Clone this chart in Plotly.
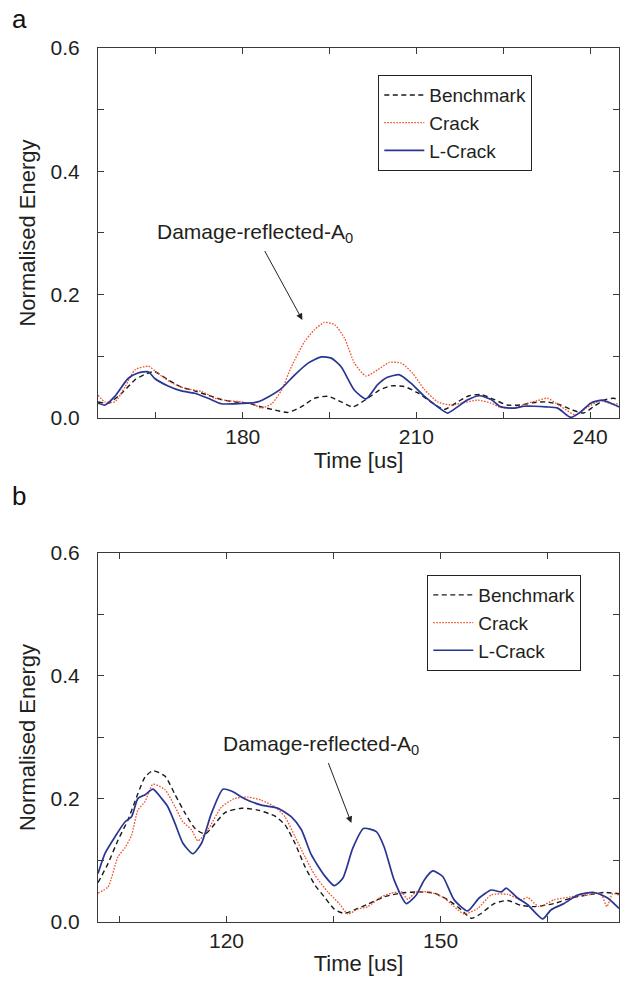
import plotly.graph_objects as go

# ---------------- Panel (a) data ----------------
a_bench_t = [155, 156.8, 159.1, 161.4, 163.4, 164.8, 167.1, 169.4, 171.7, 174, 176.3, 178.6, 180.9, 183.2,
             185.5, 187.8, 190.1, 192.4, 194.7, 197, 199, 201.6, 203.6, 205.6, 207.9, 210.2, 212.5, 214.8,
             217.1, 219.1, 221.2, 223.4, 225.7, 228, 230.3, 232.6, 234.9, 236.9, 238.9, 240.7, 242.4, 244.1, 245]
a_bench_v = [0.026, 0.024, 0.040, 0.062, 0.072, 0.075, 0.062, 0.050, 0.044, 0.037, 0.030, 0.026, 0.024, 0.018,
             0.013, 0.009, 0.018, 0.032, 0.035, 0.026, 0.018, 0.032, 0.045, 0.052, 0.051, 0.041, 0.026, 0.014,
             0.026, 0.036, 0.038, 0.030, 0.021, 0.021, 0.025, 0.026, 0.021, 0.013, 0.008, 0.019, 0.029, 0.032, 0.029]

a_crack_t = [155, 156.2, 157.9, 159.7, 161.4, 163.7, 165.4, 167.7, 170, 172.9, 175.2, 177.5, 179.8, 182.1,
             183.2, 185, 186.7, 188.4, 190.7, 192.4, 194.1, 195.9, 197.6, 199.3, 201.3, 203.3, 205.3, 207.4,
             209.4, 211.4, 213.7, 216, 218.3, 220.6, 222.9, 224.6, 226.9, 229.2, 230.9, 232.6, 234.9, 237.5,
             239.5, 241.8, 243.6, 245]
a_crack_v = [0.037, 0.026, 0.026, 0.051, 0.078, 0.084, 0.072, 0.057, 0.048, 0.043, 0.032, 0.028, 0.026, 0.021,
             0.016, 0.023, 0.045, 0.083, 0.124, 0.143, 0.155, 0.151, 0.129, 0.089, 0.068, 0.078, 0.090, 0.089,
             0.072, 0.046, 0.026, 0.021, 0.025, 0.029, 0.024, 0.017, 0.016, 0.024, 0.028, 0.032, 0.019, 0.005,
             0.017, 0.028, 0.023, 0.023]

a_lcrack_t = [155, 156.2, 157.9, 160.2, 161.9, 163.7, 164.8, 167.1, 169.4, 171.7, 174, 176.3, 178.6, 180.9,
              182.6, 184.4, 186.7, 189, 191.3, 193.6, 195.3, 197, 199.3, 201.3, 203.3, 205, 207.1, 209.1,
              211.4, 213.7, 215.4, 217.1, 218.8, 220.9, 222.9, 224.6, 226.9, 228.6, 230.3, 232.4, 234.4,
              236.7, 238.4, 240.1, 242.1, 243.6, 245]
a_lcrack_v = [0.024, 0.021, 0.035, 0.064, 0.073, 0.075, 0.064, 0.052, 0.044, 0.040, 0.032, 0.023, 0.023, 0.024,
              0.026, 0.034, 0.048, 0.070, 0.089, 0.099, 0.097, 0.083, 0.045, 0.031, 0.054, 0.066, 0.070, 0.056,
              0.035, 0.018, 0.008, 0.018, 0.029, 0.036, 0.030, 0.018, 0.016, 0.019, 0.019, 0.018, 0.016,
              0.001, 0.010, 0.024, 0.029, 0.024, 0.018]

# ---------------- Panel (b) data ----------------
b_bench_t = [102, 103.4, 104.8, 106.2, 107.6, 108.6, 109.7, 111.4, 112.8, 114.2, 115.6, 117, 118.4, 119.8,
             122.1, 124.4, 126.8, 128.2, 129.6, 131, 132.4, 133.7, 135.1, 136.5, 138.4, 139.8, 142.1, 144.5,
             146.8, 149.1, 151, 152.9, 154.3, 155.7, 157.5, 159.4, 161.3, 163.1, 165.9, 168.3, 170.6, 172.9, 175]
b_bench_v = [0.064, 0.095, 0.133, 0.166, 0.209, 0.236, 0.246, 0.237, 0.207, 0.177, 0.152, 0.143, 0.160, 0.178,
             0.185, 0.182, 0.172, 0.158, 0.128, 0.090, 0.060, 0.041, 0.021, 0.014, 0.022, 0.029, 0.041, 0.047,
             0.049, 0.047, 0.036, 0.020, 0.006, 0.014, 0.030, 0.035, 0.027, 0.025, 0.030, 0.039, 0.044, 0.048, 0.046]

b_crack_t = [102, 103.4, 104.8, 105.8, 106.7, 107.6, 108.6, 109.7, 111.4, 112.8, 113.9, 115.1, 116, 117.4,
             119.3, 121.2, 123, 124.9, 126.8, 128.2, 129.6, 131, 132.4, 134.2, 135.8, 137, 138.4, 139.8, 141.7,
             143.1, 144.5, 145.4, 146.6, 148.7, 150.5, 151.9, 153.3, 155.2, 157.1, 159.4, 161.3, 162.2, 163.8,
             165.9, 168.3, 170.6, 172.4, 173.3, 174.1, 175]
b_crack_v = [0.047, 0.057, 0.106, 0.121, 0.141, 0.182, 0.196, 0.224, 0.215, 0.187, 0.163, 0.150, 0.132, 0.150,
             0.187, 0.201, 0.203, 0.198, 0.187, 0.171, 0.139, 0.106, 0.076, 0.049, 0.030, 0.013, 0.021, 0.025, 0.041,
             0.047, 0.049, 0.037, 0.049, 0.048, 0.039, 0.025, 0.013, 0.022, 0.044, 0.045, 0.036, 0.040, 0.025,
             0.036, 0.041, 0.044, 0.047, 0.025, 0.046, 0.044]

b_lcrack_t = [102, 103, 104.4, 105.8, 106.7, 107.6, 108.6, 109.7, 110.9, 111.8, 112.8, 113.9, 115.3, 116.5,
              117.9, 119.5, 120.7, 122.6, 124.9, 127.2, 129.1, 130.5, 131.9, 133.7, 135.1, 136.3, 137.7, 139.2,
              141, 142.1, 143.5, 145.2, 146.6, 147.7, 148.9, 150.3, 151.9, 153.8, 155.4, 157.1, 158.5, 159.2,
              160.8, 162.2, 164.3, 165.5, 167.3, 169.2, 171.5, 173.4, 175]
b_lcrack_v = [0.079, 0.112, 0.139, 0.163, 0.171, 0.201, 0.207, 0.216, 0.201, 0.187, 0.160, 0.128, 0.111, 0.128,
              0.177, 0.216, 0.213, 0.200, 0.190, 0.185, 0.171, 0.150, 0.109, 0.076, 0.059, 0.071, 0.120, 0.152,
              0.147, 0.122, 0.068, 0.030, 0.044, 0.068, 0.083, 0.074, 0.036, 0.018, 0.039, 0.052, 0.049, 0.055,
              0.039, 0.028, 0.005, 0.020, 0.030, 0.044, 0.048, 0.039, 0.022]

series_names = ["Benchmark", "Crack", "L-Crack"]
y_tick_vals = [0.0, 0.2, 0.4, 0.6]
a_x_ticks = [180, 210, 240]
b_x_ticks = [120, 150]

FONT = "Liberation Sans, Arial, Helvetica, sans-serif"
TXT = "#231f20"
AX = "#3a3a3a"
C_BENCH = "#1a1a1a"
C_CRACK = "#f0502a"
C_LCRACK = "#283593"

styles = [
    dict(color=C_BENCH, width=1.4, dash="5px,3.5px"),
    dict(color=C_CRACK, width=1.3, dash="1.6px,1.4px"),
    dict(color=C_LCRACK, width=1.7, dash="solid"),
]

fig = go.Figure()

panel_a = [(a_bench_t, a_bench_v), (a_crack_t, a_crack_v), (a_lcrack_t, a_lcrack_v)]
panel_b = [(b_bench_t, b_bench_v), (b_crack_t, b_crack_v), (b_lcrack_t, b_lcrack_v)]

for (t, v), name, st in zip(panel_a, series_names, styles):
    fig.add_trace(go.Scatter(x=t, y=v, name=name, mode="lines", line=dict(shape="spline", smoothing=0.6, **st),
                             xaxis="x", yaxis="y", legend="legend"))
for (t, v), name, st in zip(panel_b, series_names, styles):
    fig.add_trace(go.Scatter(x=t, y=v, name=name, mode="lines", line=dict(shape="spline", smoothing=0.6, **st),
                             xaxis="x2", yaxis="y2", legend="legend2"))

common_x = dict(showline=True, linecolor=AX, linewidth=1, mirror="ticks", ticks="inside", ticklen=6,
                tickcolor=AX, showgrid=False, zeroline=False, tickfont=dict(size=21, color=TXT, family=FONT),
                ticklabelstandoff=0,
                title=dict(text="Time [us]", font=dict(size=22, color=TXT, family=FONT), standoff=4))
common_y = dict(showline=True, linecolor=AX, linewidth=1, mirror="ticks", ticks="inside", ticklen=6,
                tickcolor=AX, showgrid=False, zeroline=False, range=[0, 0.6], tickmode="array",
                tickvals=y_tick_vals, tickformat=".1f", ticklabelstandoff=13,
                tickfont=dict(size=21, color=TXT, family=FONT),
                minor=dict(dtick=0.1, tick0=0, ticks="inside", ticklen=6, tickcolor=AX),
                title=dict(text="Normalised Energy", font=dict(size=22, color=TXT, family=FONT), standoff=8))

legend_common = dict(xanchor="left", yanchor="top", bgcolor="white", bordercolor="#222", borderwidth=1,
                     font=dict(size=19, color=TXT, family=FONT), tracegroupgap=0, itemwidth=40)

fig.update_layout(
    width=620, height=985,
    margin=dict(l=98, r=1, t=48, b=63),
    paper_bgcolor="white", plot_bgcolor="white",
    font=dict(family=FONT, color=TXT),
    xaxis=dict(common_x, anchor="y", range=[155, 245], tickmode="array", tickvals=a_x_ticks,
               minor=dict(dtick=15, tick0=180, ticks="inside", ticklen=6, tickcolor=AX)),
    yaxis=dict(common_y, anchor="x", domain=[0.5767, 1]),
    xaxis2=dict(common_x, anchor="y2", range=[102, 175], tickmode="array", tickvals=b_x_ticks,
                minor=dict(dtick=15, tick0=120, ticks="inside", ticklen=6, tickcolor=AX)),
    yaxis2=dict(common_y, anchor="x2", domain=[0, 0.4222]),
    legend=dict(legend_common, x=0.538, y=0.969),
    legend2=dict(legend_common, x=0.632, y=0.397),
    showlegend=True,
)

ann_font = dict(size=21, color=TXT, family=FONT)
# text sits at the arrow tail, arrow head points at the reflected wave packet
fig.add_annotation(x=190.3, y=0.159, ax=182.1, ay=0.300, xref="x", yref="y", axref="x", ayref="y",
                   text="Damage-reflected-A<sub>0</sub>", font=ann_font, showarrow=True,
                   arrowhead=2, arrowsize=1.3, arrowwidth=1, arrowcolor="#222", standoff=0, startstandoff=4)
fig.add_annotation(x=137.5, y=0.161, ax=133.3, ay=0.288, xref="x2", yref="y2", axref="x2", ayref="y2",
                   text="Damage-reflected-A<sub>0</sub>", font=ann_font, showarrow=True,
                   arrowhead=2, arrowsize=1.3, arrowwidth=1, arrowcolor="#222", standoff=0, startstandoff=4)

plot_w = 620 - 98 - 1
plot_h = 985 - 48 - 63
for letter, px, py in [("a", 19, 19), ("b", 19, 496)]:
    fig.add_annotation(x=(px - 98) / plot_w, y=(985 - 63 - py) / plot_h, xref="paper", yref="paper",
                       xanchor="center", yanchor="middle", text=letter, showarrow=False,
                       font=dict(size=26, color="#111", family=FONT))

fig.write_html("out.html")
